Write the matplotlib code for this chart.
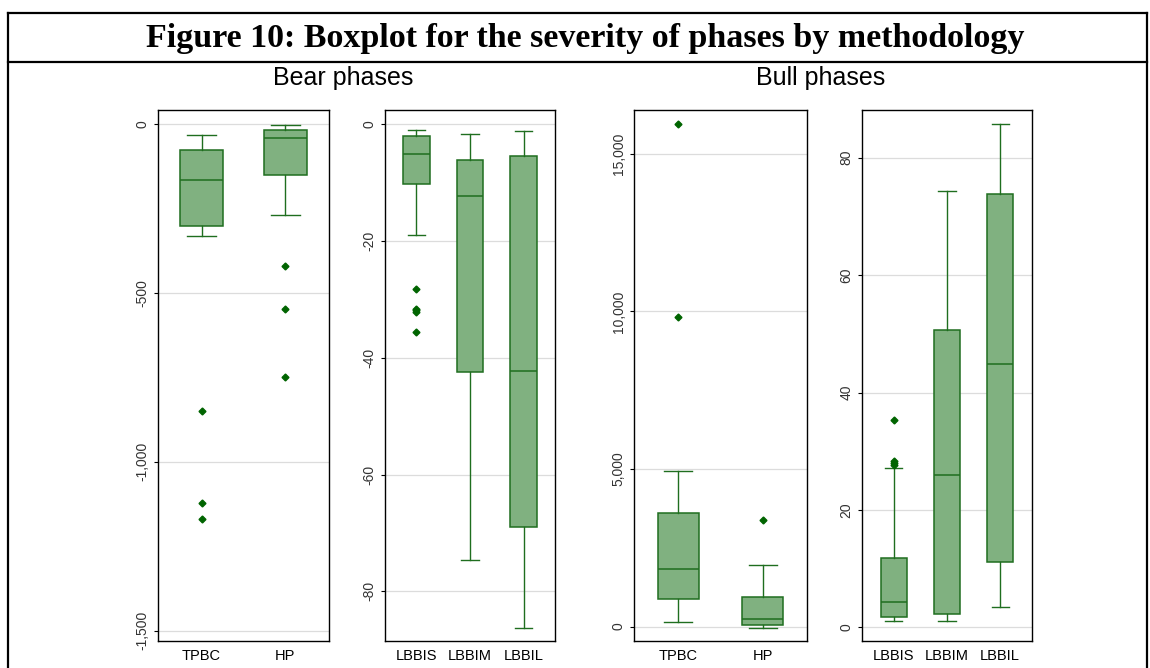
import matplotlib
matplotlib.use("Agg")
import matplotlib.pyplot as plt
from matplotlib.ticker import FuncFormatter
from matplotlib.lines import Line2D

plt.rcParams['font.family'] = ['Liberation Sans', 'DejaVu Sans']

# ================================================================================
# values (box statistics)
bear_cat_a = ["TPBC", "HP"]
bear_a_med = [-165, -43]
bear_a_q1 = [-303, -150]
bear_a_q3 = [-76, -17]
bear_a_lo = [-332, -271]
bear_a_hi = [-32, -3]
bear_a_fliers = [[-851, -1123, -1168], [-420, -548, -749]]

bear_cat_b = ["LBBIS", "LBBIM", "LBBIL"]
bear_b_med = [-5.05, -12.4, -42.2]
bear_b_q1 = [-10.2, -42.4, -68.9]
bear_b_q3 = [-2.0, -6.1, -5.4]
bear_b_lo = [-19.0, -74.6, -86.3]
bear_b_hi = [-1.0, -1.7, -1.2]
bear_b_fliers = [[-28.2, -31.6, -31.9, -32.1, -35.6], [], []]

bull_cat_a = ["TPBC", "HP"]
bull_a_med = [1839, 240]
bull_a_q1 = [868, 46]
bull_a_q3 = [3598, 937]
bull_a_lo = [149, -30]
bull_a_hi = [4923, 1965]
bull_a_fliers = [[15960, 9813], [3370]]

bull_cat_b = ["LBBIS", "LBBIM", "LBBIL"]
bull_b_med = [4.35, 26.0, 44.9]
bull_b_q1 = [1.8, 2.3, 11.1]
bull_b_q3 = [11.9, 50.7, 73.8]
bull_b_lo = [1.1, 1.1, 3.5]
bull_b_hi = [27.1, 74.3, 85.8]
bull_b_fliers = [[35.3, 28.4, 28.0, 27.6], [], []]

# ================================================================================
FILL = "#80b180"
EDGE = "#1f6e1f"
DOT = "#006400"


def make_stats(cats, med, q1, q3, lo, hi, fliers):
    out = []
    for i in range(len(cats)):
        out.append(dict(label=cats[i], med=med[i], q1=q1[i], q3=q3[i],
                        whislo=lo[i], whishi=hi[i], fliers=fliers[i]))
    return out


def draw_panel(fig, rect, stats, ylim, yticks, xlim, boxw):
    ax = fig.add_axes(rect)
    n = len(stats)
    pos = list(range(1, n + 1))
    ax.bxp(stats, positions=pos, widths=boxw, capwidths=boxw * 0.67,
           patch_artist=True, showfliers=True,
           boxprops=dict(facecolor=FILL, edgecolor=EDGE, linewidth=1.1),
           medianprops=dict(color=EDGE, linewidth=1.1),
           whiskerprops=dict(color=EDGE, linewidth=1.0),
           capprops=dict(color=EDGE, linewidth=1.0),
           flierprops=dict(marker="D", markersize=3.5, markerfacecolor=DOT,
                           markeredgecolor=DOT, linestyle="none"),
           zorder=3)
    ax.set_xlim(*xlim)
    ax.set_ylim(*ylim)
    ax.set_yticks(yticks)
    ax.yaxis.set_major_formatter(FuncFormatter(lambda v, p: f"{v:,.0f}"))
    ax.grid(axis="y", color="#dcdcdc", linewidth=0.9, zorder=0)
    ax.set_axisbelow(True)
    ax.tick_params(axis="y", labelsize=10, length=3, width=0.8, pad=3,
                   labelcolor="#333333")
    ax.tick_params(axis="x", labelsize=10.5, length=0, pad=6)
    for lab in ax.get_yticklabels():
        lab.set_rotation(90)
        lab.set_va("center")
    for s in ax.spines.values():
        s.set_linewidth(1.0)
        s.set_color("black")
    return ax


W, H = 1150, 668
fig = plt.figure(figsize=(W / 100, H / 100), dpi=100)


def rect_px(x0, x1, y0=110, y1=641):
    return [x0 / W, (H - y1) / H, (x1 - x0) / W, (y1 - y0) / H]


draw_panel(fig, rect_px(158, 329),
           make_stats(bear_cat_a, bear_a_med, bear_a_q1, bear_a_q3, bear_a_lo, bear_a_hi, bear_a_fliers),
           (-1530, 41), [-1500, -1000, -500, 0], (0.48, 2.52), 0.51)
draw_panel(fig, rect_px(385, 555),
           make_stats(bear_cat_b, bear_b_med, bear_b_q1, bear_b_q3, bear_b_lo, bear_b_hi, bear_b_fliers),
           (-88.5, 2.4), [-80, -60, -40, -20, 0], (0.415, 3.585), 0.49)
draw_panel(fig, rect_px(634, 807),
           make_stats(bull_cat_a, bull_a_med, bull_a_q1, bull_a_q3, bull_a_lo, bull_a_hi, bull_a_fliers),
           (-457, 16394), [0, 5000, 10000, 15000], (0.475, 2.525), 0.49)
draw_panel(fig, rect_px(862, 1032),
           make_stats(bull_cat_b, bull_b_med, bull_b_q1, bull_b_q3, bull_b_lo, bull_b_hi, bull_b_fliers),
           (-2.3, 88.1), [0, 20, 40, 60, 80], (0.4, 3.6), 0.48)

# ================================================================================
# frame and headings
fig.add_artist(Line2D([8 / W, 1147 / W], [(H - 13) / H, (H - 13) / H], color="black", linewidth=1.6))
fig.add_artist(Line2D([8 / W, 1147 / W], [(H - 62) / H, (H - 62) / H], color="black", linewidth=1.6))
fig.add_artist(Line2D([8 / W, 8 / W], [0, (H - 13) / H], color="black", linewidth=1.6))
fig.add_artist(Line2D([1147 / W, 1147 / W], [0, (H - 13) / H], color="black", linewidth=1.6))

fig.text(585 / W, (H - 38) / H, "Figure 10: Boxplot for the severity of phases by methodology",
         ha="center", va="center", fontsize=24.5, fontweight="bold", family="Liberation Serif")
fig.text(343 / W, (H - 78) / H, "Bear phases", ha="center", va="center", fontsize=18)
fig.text(821 / W, (H - 78) / H, "Bull phases", ha="center", va="center", fontsize=18)

fig.savefig("out.png", dpi=100)
